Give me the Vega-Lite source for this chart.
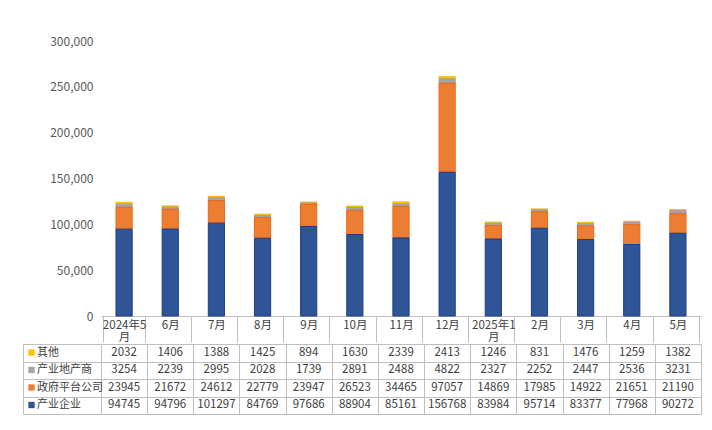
{
  "$schema": "https://vega.github.io/schema/vega-lite/v6.json",
  "padding": {"left": 22, "top": 35, "right": 12, "bottom": 4},
  "background": "white",
  "config": {
    "font": "Noto Sans CJK SC",
    "view": {"stroke": null},
    "axis": {"labelFont": "Noto Sans CJK SC", "labelFontSize": 11.5, "labelColor": "#404040"}
  },
  "datasets": {
    "flows": [
      {"month": "2024年5月", "series": "其他", "value": 2032},
      {"month": "2024年5月", "series": "产业地产商", "value": 3254},
      {"month": "2024年5月", "series": "政府平台公司", "value": 23945},
      {"month": "2024年5月", "series": "产业企业", "value": 94745},
      {"month": "6月", "series": "其他", "value": 1406},
      {"month": "6月", "series": "产业地产商", "value": 2239},
      {"month": "6月", "series": "政府平台公司", "value": 21672},
      {"month": "6月", "series": "产业企业", "value": 94796},
      {"month": "7月", "series": "其他", "value": 1388},
      {"month": "7月", "series": "产业地产商", "value": 2995},
      {"month": "7月", "series": "政府平台公司", "value": 24612},
      {"month": "7月", "series": "产业企业", "value": 101297},
      {"month": "8月", "series": "其他", "value": 1425},
      {"month": "8月", "series": "产业地产商", "value": 2028},
      {"month": "8月", "series": "政府平台公司", "value": 22779},
      {"month": "8月", "series": "产业企业", "value": 84769},
      {"month": "9月", "series": "其他", "value": 894},
      {"month": "9月", "series": "产业地产商", "value": 1739},
      {"month": "9月", "series": "政府平台公司", "value": 23947},
      {"month": "9月", "series": "产业企业", "value": 97686},
      {"month": "10月", "series": "其他", "value": 1630},
      {"month": "10月", "series": "产业地产商", "value": 2891},
      {"month": "10月", "series": "政府平台公司", "value": 26523},
      {"month": "10月", "series": "产业企业", "value": 88904},
      {"month": "11月", "series": "其他", "value": 2339},
      {"month": "11月", "series": "产业地产商", "value": 2488},
      {"month": "11月", "series": "政府平台公司", "value": 34465},
      {"month": "11月", "series": "产业企业", "value": 85161},
      {"month": "12月", "series": "其他", "value": 2413},
      {"month": "12月", "series": "产业地产商", "value": 4822},
      {"month": "12月", "series": "政府平台公司", "value": 97057},
      {"month": "12月", "series": "产业企业", "value": 156768},
      {"month": "2025年1月", "series": "其他", "value": 1246},
      {"month": "2025年1月", "series": "产业地产商", "value": 2327},
      {"month": "2025年1月", "series": "政府平台公司", "value": 14869},
      {"month": "2025年1月", "series": "产业企业", "value": 83984},
      {"month": "2月", "series": "其他", "value": 831},
      {"month": "2月", "series": "产业地产商", "value": 2252},
      {"month": "2月", "series": "政府平台公司", "value": 17985},
      {"month": "2月", "series": "产业企业", "value": 95714},
      {"month": "3月", "series": "其他", "value": 1476},
      {"month": "3月", "series": "产业地产商", "value": 2447},
      {"month": "3月", "series": "政府平台公司", "value": 14922},
      {"month": "3月", "series": "产业企业", "value": 83377},
      {"month": "4月", "series": "其他", "value": 1259},
      {"month": "4月", "series": "产业地产商", "value": 2536},
      {"month": "4月", "series": "政府平台公司", "value": 21651},
      {"month": "4月", "series": "产业企业", "value": 77968},
      {"month": "5月", "series": "其他", "value": 1382},
      {"month": "5月", "series": "产业地产商", "value": 3231},
      {"month": "5月", "series": "政府平台公司", "value": 21190},
      {"month": "5月", "series": "产业企业", "value": 90272}
    ]
  },
  "data": {"name": "flows"},
  "spacing": 0,
  "resolve": {"scale": {"color": "independent"}},
  "vconcat": [
    {
      "width": 600,
      "height": 275,
      "transform": [
        {"calculate": "indexof(['产业企业', '政府平台公司', '产业地产商', '其他'], datum.series)", "as": "stackRank"}
      ],
      "mark": {"type": "bar", "width": {"band": 0.39}, "strokeWidth": 1},
      "encoding": {
        "x": {
          "field": "month",
          "type": "nominal",
          "sort": null,
          "title": null,
          "axis": {
            "orient": "bottom",
            "domainColor": "#bfbfbf",
            "tickColor": "#bfbfbf",
            "tickSize": 26,
            "tickBand": "extent",
            "labelAngle": 0,
            "labelBaseline": "middle",
            "labelPadding": -17,
            "labelLineHeight": 12.5,
            "labelOverlap": false,
            "labelExpr": "datum.label == '2024年5月' ? ['2024年5', '月'] : datum.label == '2025年1月' ? ['2025年1', '月'] : datum.label"
          }
        },
        "y": {
          "field": "value",
          "type": "quantitative",
          "aggregate": "sum",
          "stack": "zero",
          "title": null,
          "scale": {"domain": [0, 300000]},
          "axis": {
            "values": [0, 50000, 100000, 150000, 200000, 250000, 300000],
            "format": ",.0f",
            "domain": false,
            "ticks": false,
            "grid": false,
            "labelPadding": 8,
            "labelFontSize": 12,
            "labelColor": "#595959"
          }
        },
        "order": {"field": "stackRank", "type": "quantitative", "sort": "ascending"},
        "color": {
          "field": "series",
          "type": "nominal",
          "scale": {
            "domain": ["产业企业", "政府平台公司", "产业地产商", "其他"],
            "range": ["#2F5597", "#ED7D31", "#A5A5A5", "#FFC000"]
          },
          "legend": null
        },
        "stroke": {
          "field": "series",
          "type": "nominal",
          "scale": {
            "domain": ["产业企业", "政府平台公司", "产业地产商", "其他"],
            "range": ["#1F3C86", "#E8681C", "#A0A0A0", "#F5B800"]
          },
          "legend": null
        }
      }
    },
    {
      "width": 600,
      "height": 70,
      "encoding": {
        "x": {
          "field": "month",
          "type": "nominal",
          "sort": null,
          "title": null,
          "axis": {
            "labels": false,
            "ticks": false,
            "domain": false,
            "grid": true,
            "gridColor": "#bfbfbf",
            "tickBand": "extent"
          }
        },
        "y": {
          "field": "series",
          "type": "nominal",
          "sort": ["其他", "产业地产商", "政府平台公司", "产业企业"],
          "title": null,
          "axis": {
            "labels": false,
            "offset": 78,
            "domain": true,
            "domainColor": "#bfbfbf",
            "ticks": true,
            "tickSize": -78,
            "tickColor": "#bfbfbf",
            "tickBand": "extent",
            "grid": true,
            "gridColor": "#bfbfbf"
          }
        }
      },
      "layer": [
        {
          "mark": {"type": "text", "fontSize": 11.5, "color": "#404040", "font": "Noto Sans CJK SC"},
          "encoding": {"text": {"field": "value", "type": "quantitative", "format": "d"}}
        },
        {
          "mark": {"type": "point", "shape": "square", "filled": true, "opacity": 0},
          "encoding": {
            "color": {
              "field": "series",
              "type": "nominal",
              "scale": {
                "domain": ["其他", "产业地产商", "政府平台公司", "产业企业"],
                "range": ["#FFC000", "#A5A5A5", "#ED7D31", "#2F5597"]
              },
              "legend": {
                "orient": "none",
                "legendX": -75,
                "legendY": 3,
                "title": null,
                "padding": 0,
                "symbolType": "square",
                "symbolSize": 40,
                "symbolOpacity": 1,
                "symbolStrokeWidth": 0,
                "labelFont": "Noto Sans CJK SC",
                "labelFontSize": 11,
                "labelColor": "#404040",
                "labelOffset": 0,
                "rowPadding": 5.5
              }
            }
          }
        }
      ]
    }
  ]
}
